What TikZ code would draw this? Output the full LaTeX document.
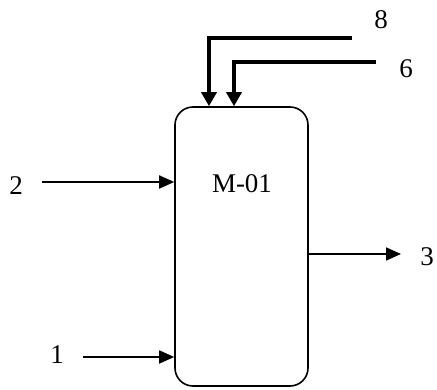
\documentclass[tikz,border=0pt]{standalone}
\usepackage{fontspec}
\setmainfont{Liberation Serif}
\usepackage{tikz}
\usetikzlibrary{arrows.meta,positioning}

\begin{document}
\begin{tikzpicture}[
    x=1pt, y=1pt,
    font=\fontsize{27}{32}\selectfont,
    vessel/.style={draw, line width=1.6pt, rectangle, rounded corners=18pt, minimum width=133pt, minimum height=279pt, inner sep=0pt},
    streamlabel/.style={inner sep=0pt},
    feedline/.style={line width=1.8pt, -{Triangle[length=15pt,width=13pt]}},
    topline/.style={line width=3.4pt, -{Triangle[length=14pt,width=15pt]}}
]
\useasboundingbox (0,0) rectangle (437,389);

\node[vessel] (m01) at (241.5,142.5) {};
\node[streamlabel] (tag) at (242,205) {M-01};

\node[streamlabel] (n8) at (381,369) {8};
\node[streamlabel] (n6) at (406,320) {6};
\node[streamlabel] (n2) at (16,203) {2};
\node[streamlabel] (n1) at (57,34) {1};
\node[streamlabel] (n3) at (427,132) {3};

\coordinate (s8) at (352,351);
\coordinate (s6) at (376,327);
\coordinate (s2) at (42,207);
\coordinate (s1) at (83,32);
\coordinate (e3) at (401,135);

\draw[topline] (s8) -| ([xshift=-32.5pt]m01.north);
\draw[topline] (s6) -| ([xshift=-7.5pt]m01.north);
\draw[feedline] (s2) -- (s2 -| m01.west);
\draw[feedline] (s1) -- (s1 -| m01.west);
\draw[feedline] (e3 -| m01.east) -- (e3);
\end{tikzpicture}
\end{document}
